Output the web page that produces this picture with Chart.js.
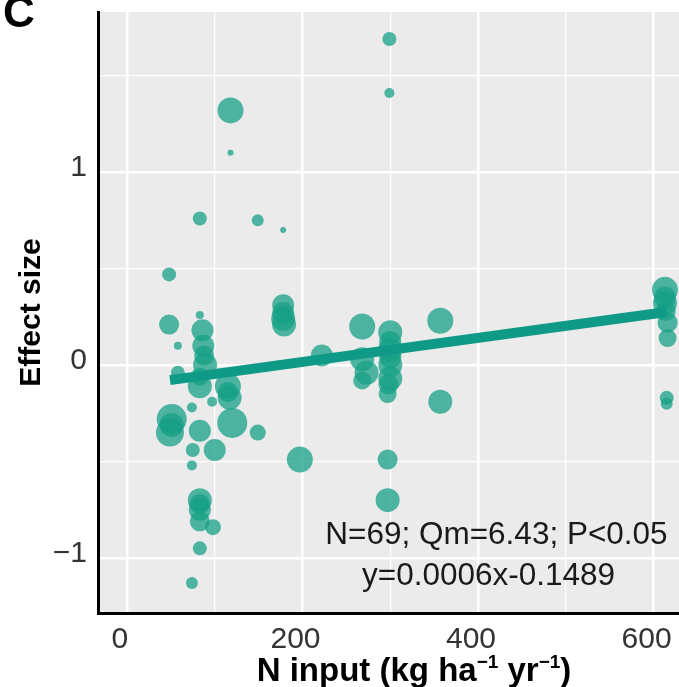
<!DOCTYPE html>
<html>
<head>
<meta charset="utf-8">
<script src="https://cdn.jsdelivr.net/npm/chart.js@4"></script>
<style>
  html, body { margin: 0; padding: 0; background: #fff; overflow: hidden; }
  #wrap { width: 679px; height: 687px; }
</style>
</head>
<body>
<div id="wrap"><canvas id="chart" width="679" height="687"></canvas></div>
<script>
// N input (kg ha-1 yr-1), effect size and study weight for each observation
const nInput = [299, 299, 118, 118, 83, 149, 178, 48, 178, 178, 179, 48, 83, 58, 86, 87, 89, 58, 83, 115,
  117, 97, 74, 51, 49, 120, 149, 83, 75, 100, 74, 197, 83, 83, 83, 98, 83, 74, 222, 268,
  273, 268, 300, 300, 300, 300, 297, 357, 357, 297, 297, 613, 613, 616, 616, 615, 615, 300, 300, 88,
  83, 178, 613, 614, 115, 51, 83, 298, 268];
const effectSize = [1.69, 1.41, 1.32, 1.10, 0.76, 0.75, 0.70, 0.47, 0.31, 0.24, 0.21, 0.21, 0.26, 0.10, 0.18, 0.10, 0.00, -0.04, -0.11, -0.11,
  -0.17, -0.19, -0.22, -0.28, -0.35, -0.30, -0.35, -0.34, -0.44, -0.44, -0.52, -0.49, -0.70, -0.75, -0.81, -0.84, -0.95, -1.13, 0.05, 0.20,
  -0.04, 0.03, 0.17, 0.08, 0.00, -0.07, -0.15, 0.23, -0.19, -0.49, -0.70, 0.39, 0.32, 0.22, 0.14, -0.17, -0.20, 0.12, 0.04, 0.05,
  -0.06, 0.27, 0.35, 0.28, -0.14, -0.31, -0.72, -0.10, -0.08];
const weights = [7, 5, 13, 3, 7, 6, 3, 7, 11, 12, 12, 10, 4, 4, 11, 11, 12, 7, 12, 13,
  12, 5, 5, 15, 14, 15, 8, 11, 7, 11, 5, 13, 12, 11, 10, 8, 7, 6, 11, 13,
  12, 12, 12, 12, 12, 12, 9, 13, 12, 10, 12, 13, 12, 10, 9, 7, 6, 11, 11, 10,
  9, 11, 11, 10, 10, 12, 10, 10, 9];

// fitted meta-regression line, as drawn
const fitX = [49, 615];
const fitY = [-0.078, 0.275];

const xTickValues = [0, 100, 200, 300, 400, 500, 600];
const xTickLabels = ['0', '', '200', '', '400', '', '600'];
const yTickValues = [-1, -0.5, 0, 0.5, 1, 1.5];
const yTickLabels = ['\u22121', '', '0', '', '1', ''];
const statLines = ['N=69; Qm=6.43; P<0.05', 'y=0.0006x-0.1489'];

const FONT = "'Liberation Sans', Arial, sans-serif";

const points = nInput.map((x, i) => ({ x: x, y: effectSize[i], r: weights[i] }));
const fitLine = fitX.map((x, i) => ({ x: x, y: fitY[i] }));

const isMajorX = v => v % 200 === 0;
const isMajorY = v => Number.isInteger(v);

// grey panel, panel letter, x title and the stats note
const decor = {
  id: 'decor',
  beforeDraw(chart) {
    const { ctx, chartArea: a } = chart;
    ctx.save();
    ctx.fillStyle = '#EBEBEB';
    ctx.fillRect(a.left, a.top, a.right - a.left, a.bottom - a.top);
    ctx.restore();
  },
  afterDraw(chart) {
    const { ctx } = chart;
    const xs = chart.scales.x, ys = chart.scales.y;
    ctx.save();

    // panel letter
    ctx.fillStyle = '#000';
    ctx.font = 'bold 44px ' + FONT;
    ctx.textBaseline = 'alphabetic';
    ctx.textAlign = 'left';
    ctx.fillText('C', 3, 27);

    // x axis title with superscripts
    const parts = [['N input (kg ha', false], ['\u22121', true], [' yr', false], ['\u22121', true], [')', false]];
    const big = 'bold 33px ' + FONT, small = 'bold 19px ' + FONT;
    let total = 0;
    parts.forEach(p => { ctx.font = p[1] ? small : big; total += ctx.measureText(p[0]).width; });
    let cx = 414 - total / 2;
    const base = 681;
    parts.forEach(p => {
      ctx.font = p[1] ? small : big;
      ctx.fillText(p[0], cx, p[1] ? base - 13 : base);
      cx += ctx.measureText(p[0]).width;
    });

    // stats note
    ctx.font = '31.5px ' + FONT;
    ctx.fillStyle = '#1a1a1a';
    ctx.textAlign = 'center';
    ctx.textBaseline = 'middle';
    ctx.fillText(statLines[0], xs.getPixelForValue(421), ys.getPixelForValue(-0.88));
    ctx.fillText(statLines[1], xs.getPixelForValue(412), ys.getPixelForValue(-1.095));
    ctx.restore();
  }
};

new Chart(document.getElementById('chart'), {
  type: 'bubble',
  data: {
    datasets: [
      {
        type: 'line',
        data: fitLine,
        borderColor: '#0F9A87',
        borderWidth: 10,
        borderCapStyle: 'butt',
        pointRadius: 0,
        fill: false,
        order: 0
      },
      {
        data: points,
        backgroundColor: 'rgba(22,160,133,0.75)',
        borderWidth: 0,
        hoverRadius: 0,
        order: 1
      }
    ]
  },
  options: {
    responsive: false,
    animation: false,
    events: [],
    layout: { autoPadding: false, padding: { top: 12, right: 0, left: 0, bottom: 0 } },
    plugins: { legend: { display: false }, tooltip: { enabled: false } },
    scales: {
      x: {
        type: 'linear',
        min: -33,
        max: 629,
        afterFit: s => { s.height = 74; s.paddingLeft = 0; s.paddingRight = 0; },
        afterBuildTicks: s => { s.ticks = xTickValues.map(v => ({ value: v })); },
        grid: {
          color: '#FFFFFF',
          lineWidth: c => (c.tick && isMajorX(c.tick.value)) ? 2.5 : 1.2,
          drawTicks: false
        },
        border: { display: true, color: '#000', width: 3 },
        ticks: {
          padding: 9,
          labelOffset: -7,
          color: '#333',
          font: { family: FONT, size: 30 },
          autoSkip: false,
          maxRotation: 0,
          callback: (v, i) => xTickLabels[xTickValues.indexOf(v)] || ''
        }
      },
      y: {
        type: 'linear',
        min: -1.285,
        max: 1.83,
        afterFit: s => { s.width = 98; s.paddingTop = 0; s.paddingBottom = 0; },
        afterBuildTicks: s => { s.ticks = yTickValues.map(v => ({ value: v })); },
        grid: {
          color: '#FFFFFF',
          lineWidth: c => (c.tick && isMajorY(c.tick.value)) ? 2.5 : 1.2,
          drawTicks: false
        },
        border: { display: true, color: '#000', width: 3 },
        title: {
          display: true,
          text: 'Effect size',
          color: '#000',
          font: { family: FONT, size: 30, weight: 'bold' },
          padding: { top: 14, bottom: 0 }
        },
        ticks: {
          padding: 11,
          labelOffset: -4,
          color: '#333',
          font: { family: FONT, size: 30 },
          autoSkip: false,
          callback: v => yTickLabels[yTickValues.indexOf(v)] || ''
        }
      }
    }
  },
  plugins: [decor]
});
</script>
</body>
</html>
